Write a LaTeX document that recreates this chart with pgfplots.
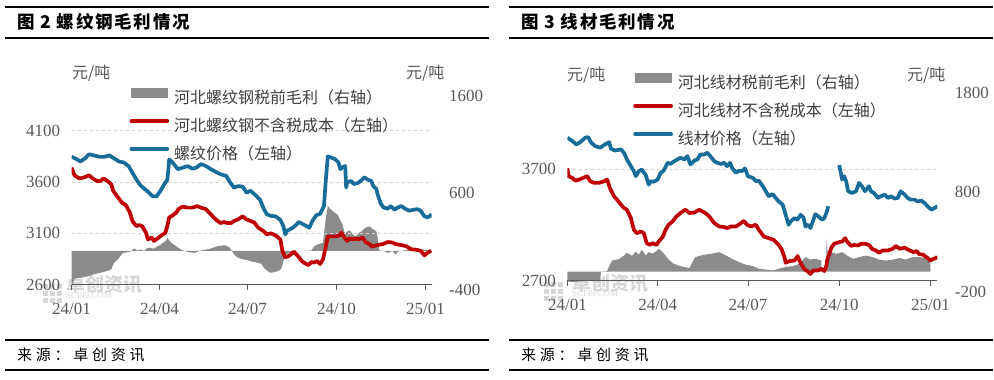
\documentclass[border=0pt]{standalone}
\usepackage{pgfplots}
\pgfplotsset{compat=1.18}
\usepackage{fontspec}
\setmainfont{Liberation Serif}
\newfontfamily\cjk{Noto Sans CJK SC}
\definecolor{costred}{RGB}{192,0,0}
\definecolor{priceblue}{RGB}{24,108,154}
\definecolor{profitgray}{RGB}{140,140,140}
\definecolor{tickgray}{RGB}{89,89,89}
\definecolor{txtgray}{RGB}{64,64,64}
\definecolor{wmgray}{RGB}{215,215,215}

\pgfplotsset{
  common/.style={scale only axis, xmin=0,
    /pgf/number format/assume math mode=true,
    /pgf/number format/1000 sep={},
    tick label style={font=\fontsize{17}{17}\selectfont, text=tickgray},
    major tick length=5pt, xtick align=outside},
  leftpanel/.style={at={(74,93)}, anchor=south west, width=360pt, height=194pt, xmax=372.3},
  rightpanel/.style={at={(572,89)}, anchor=south west, width=370pt, height=199pt, xmax=373},
  areaaxis/.style={axis x line=none, axis y line*=right,
    y axis line style={draw=none}, ytick style={draw=none},
    yticklabel style={anchor=west, xshift=14pt}},
  lineaxis/.style={axis x line*=bottom, axis y line*=left,
    y axis line style={draw=none}, ytick style={draw=none},
    x axis line style={draw=tickgray, line width=0.8pt},
    xtick style={draw=tickgray, line width=0.8pt},
    xtick={0,91,182,274,366}, xticklabels={24/01,24/04,24/07,24/10,25/01},
    xticklabel style={yshift=-10pt},
    yticklabel style={anchor=east, xshift=-8pt},
    ymajorgrids, grid style={dashed, draw=black!18, line width=0.8pt},
    legend style={draw=none, fill=none, inner sep=0pt, outer sep=0pt,
      font=\cjk\fontsize{16}{16}\selectfont, text=txtgray,
      nodes={inner sep=0pt, text height=14pt, text depth=2pt},
      row sep=12pt,
      /tikz/every odd column/.append style={column sep=5pt}},
    legend cell align=left},
  costline/.style={costred, line width=3.7pt, line join=round,
    legend image code/.code={\draw[costred, line width=3.7pt, line cap=round] (0pt,5pt) -- (36pt,5pt);}},
  priceline/.style={priceblue, line width=3.7pt, line join=round,
    legend image code/.code={\draw[priceblue, line width=3.7pt, line cap=round] (0pt,5pt) -- (36pt,5pt);}},
  profitlegend/.style={legend image code/.code={\fill[profitgray] (0pt,0.5pt) rectangle (36pt,9.5pt);}}
}

\begin{document}
\begin{tikzpicture}[x=1pt,y=1pt]
\fill[white] (0,0) rectangle (994,380);

% header / footer rules
\foreach \xa/\xb in {5/489, 509/993}{
  \draw[line width=1.5pt] (\xa,373) -- (\xb,373);
  \draw[line width=1.5pt] (\xa,342) -- (\xb,342);
  \draw[line width=1.5pt] (\xa,40) -- (\xb,40);
  \draw[line width=1.5pt] (\xa,10) -- (\xb,10);
}
\node[anchor=west, inner sep=0pt] at (17,358) {\cjk\bfseries\fontsize{17.5}{17.5}\selectfont\addfontfeature{LetterSpace=10}图 2 螺纹钢毛利情况};
\node[anchor=west, inner sep=0pt] at (521,358) {\cjk\bfseries\fontsize{17.5}{17.5}\selectfont\addfontfeature{LetterSpace=10}图 3 线材毛利情况};
\node[anchor=west, inner sep=0pt, text=black] at (17,25) {\cjk\fontsize{15}{15}\selectfont\addfontfeature{LetterSpace=25}来源：卓创资讯};
\node[anchor=west, inner sep=0pt, text=black] at (521,25) {\cjk\fontsize{15}{15}\selectfont\addfontfeature{LetterSpace=25}来源：卓创资讯};

% watermarks
\foreach \ox/\oy in {43/77, 544/79}{
  \foreach \i in {0,1,2}{\foreach \j in {0,1,2}{
    \fill[wmgray] (\ox+\i*7,\oy+\j*7) rectangle ++(5,5);}}
}
\node[anchor=west, inner sep=0pt, text=wmgray] at (66,96) {\cjk\bfseries\fontsize{19}{19}\selectfont 卓创资讯};
\node[anchor=west, inner sep=0pt, text=wmgray] at (66,84) {\fontsize{9}{9}\selectfont SCI99.COM};
\node[anchor=west, inner sep=0pt, text=wmgray] at (572,97) {\cjk\bfseries\fontsize{19}{19}\selectfont 卓创资讯};
\node[anchor=west, inner sep=0pt, text=wmgray] at (572,86) {\fontsize{9}{9}\selectfont SCI99.COM};

% unit labels
\node[anchor=west, inner sep=0pt, text=tickgray] at (72,307) {\cjk\fontsize{16}{16}\selectfont 元/吨};
\node[anchor=west, inner sep=0pt, text=tickgray] at (406,307) {\cjk\fontsize{16}{16}\selectfont 元/吨};
\node[anchor=west, inner sep=0pt, text=tickgray] at (567,305) {\cjk\fontsize{16}{16}\selectfont 元/吨};
\node[anchor=west, inner sep=0pt, text=tickgray] at (907,305) {\cjk\fontsize{16}{16}\selectfont 元/吨};

% ================= LEFT PANEL =================
\begin{axis}[common, leftpanel, areaaxis, ymin=-400, ymax=1600, ytick={-400,600,1600}]
\addplot[fill=profitgray, draw=none] coordinates {
(0,-380)(3,-285)(10,-275)(17,-260)(23,-240)(30,-225)(37,-205)(41,-190)(44,-120)(48,-85)(53,-20)(60,-10)(65,25)(68,5)(72,15)(75,0)(79,35)(85,25)(92,65)(98,110)(99,135)(103,85)(108,50)(113,15)(120,-10)(127,-20)(134,5)(144,25)(151,50)(158,60)(163,40)(168,-35)(172,-70)(177,-85)(182,-95)(187,-110)(192,-120)(196,-130)(199,-175)(203,-210)(206,-225)(211,-215)(215,-200)(217,-180)(219,-105)(222,-35)(227,-10)(232,0)(237,0)(242,0)(248,5)(251,50)(254,65)(260,85)(263,340)(265,465)(268,430)(272,395)(275,375)(278,315)(280,275)(283,170)(285,205)(288,210)(291,170)(294,150)(297,185)(301,210)(304,240)(308,255)(311,230)(315,205)(316,170)(318,15)(320,0)(323,0)(327,-20)(332,0)(335,-35)(339,5)(342,0)(347,15)(354,15)(361,15)(366,15)(370,5)(372,-20)
} \closedcycle;
\end{axis}

\begin{axis}[common, leftpanel, lineaxis, ymin=2600, ymax=4491, ytick={2600,3100,3600,4100},
  legend style={at={(rel axis cs:0.161,1.012)}, anchor=north west}]
\addlegendimage{profitlegend}
\addlegendentry{河北螺纹钢税前毛利（右轴）}
\addplot[costline] coordinates {
(0,3740)(3,3665)(8,3635)(13,3645)(18,3665)(22,3635)(26,3610)(30,3610)(33,3635)(37,3610)(41,3580)(43,3515)(48,3450)(52,3400)(56,3375)(60,3310)(63,3220)(67,3170)(70,3180)(73,3170)(77,3105)(79,3040)(83,3060)(85,3025)(89,3050)(93,3080)(97,3105)(99,3170)(101,3255)(104,3270)(108,3300)(111,3340)(115,3360)(120,3350)(125,3350)(130,3365)(134,3350)(139,3335)(144,3285)(148,3245)(151,3220)(154,3200)(158,3210)(161,3200)(165,3200)(168,3220)(172,3235)(177,3265)(181,3235)(185,3220)(189,3205)(193,3155)(198,3125)(202,3090)(206,3100)(211,3080)(216,3040)(218,2930)(221,2865)(225,2880)(230,2920)(234,2880)(238,2830)(241,2810)(245,2790)(248,2820)(251,2815)(254,2830)(257,2800)(260,2845)(263,2975)(265,3070)(268,3070)(273,3070)(277,3080)(279,3105)(282,3060)(285,3025)(287,3050)(291,3040)(294,3050)(297,3040)(301,3060)(304,3015)(308,2995)(311,2970)(316,2985)(322,2995)(327,3015)(332,3010)(335,2995)(341,2985)(346,2975)(351,2945)(356,2940)(361,2930)(365,2885)(368,2910)(372,2930)
};
\addlegendentry{河北螺纹钢不含税成本（左轴）}
\addplot[priceline] coordinates {
(0,3845)(4,3830)(9,3800)(14,3830)(18,3870)(23,3860)(29,3845)(34,3845)(39,3860)(44,3830)(49,3800)(54,3790)(59,3755)(63,3690)(67,3625)(71,3570)(74,3545)(79,3505)(84,3460)(88,3460)(92,3515)(96,3580)(99,3620)(100,3710)(101,3820)(104,3795)(110,3725)(115,3740)(120,3755)(125,3730)(129,3740)(134,3775)(139,3755)(144,3725)(149,3700)(154,3675)(160,3660)(163,3610)(168,3545)(172,3560)(177,3555)(181,3495)(185,3515)(191,3465)(195,3425)(199,3335)(202,3285)(206,3270)(211,3265)(216,3230)(219,3170)(221,3090)(223,3125)(229,3155)(232,3180)(235,3210)(241,3180)(246,3155)(249,3220)(253,3275)(257,3290)(261,3365)(263,3625)(265,3850)(268,3840)(273,3820)(276,3790)(278,3725)(280,3745)(283,3755)(284,3545)(285,3595)(289,3610)(292,3580)(296,3590)(299,3610)(303,3645)(306,3625)(310,3610)(312,3560)(315,3535)(317,3465)(320,3385)(323,3350)(327,3340)(330,3365)(334,3330)(337,3350)(341,3365)(345,3340)(349,3320)(354,3330)(358,3335)(361,3320)(365,3265)(368,3255)(371,3270)(372,3290)
};
\addlegendentry{螺纹价格（左轴）}
\end{axis}

% ================= RIGHT PANEL =================
\begin{axis}[common, rightpanel, areaaxis, ymin=-200, ymax=1800, ytick={-200,800,1800}]
\addplot[fill=profitgray, draw=none] coordinates {
(0,-100)(5,-105)(11,-100)(18,-95)(25,-95)(28,-90)(31,-85)(33,-80)(34,0)(40,5)(43,70)(45,110)(52,125)(57,160)(60,188)(65,160)(69,200)(72,168)(75,220)(79,160)(82,195)(86,180)(89,200)(92,230)(96,195)(99,160)(102,120)(107,80)(112,60)(118,45)(123,35)(126,95)(129,145)(134,160)(139,170)(146,180)(153,195)(160,160)(166,128)(173,95)(180,68)(187,55)(193,28)(200,20)(207,10)(213,28)(220,45)(227,55)(234,78)(240,145)(245,120)(250,128)(256,110)
} \closedcycle;
\addplot[fill=profitgray, draw=none] coordinates {
(261,330)(262,211)(266,195)(271,178)(277,195)(282,160)(288,128)(294,145)(301,160)(308,145)(314,120)(321,110)(328,120)(335,135)(341,120)(348,145)(355,145)(362,135)(366,110)
} \closedcycle;
\end{axis}

\begin{axis}[common, rightpanel, lineaxis, ymin=2700, ymax=4482, ytick={2700,3700},
  unbounded coords=jump,
  legend style={at={(rel axis cs:0.178,1.042)}, anchor=north west}]
\addlegendimage{profitlegend}
\addlegendentry{河北线材税前毛利（右轴）}
\addplot[costline] coordinates {
(0,3705)(1,3635)(5,3620)(8,3595)(12,3605)(16,3620)(20,3635)(23,3590)(27,3575)(32,3575)(37,3590)(40,3605)(43,3525)(47,3455)(50,3425)(54,3380)(57,3350)(60,3335)(64,3260)(67,3155)(70,3125)(74,3140)(77,3125)(80,3035)(83,3020)(86,3035)(90,3020)(92,3050)(96,3090)(99,3155)(102,3200)(106,3230)(110,3275)(114,3305)(119,3335)(123,3305)(128,3310)(133,3335)(136,3320)(139,3305)(143,3275)(148,3215)(153,3185)(158,3180)(161,3170)(165,3185)(170,3185)(175,3215)(178,3235)(181,3200)(185,3185)(190,3200)(193,3155)(198,3095)(203,3080)(208,3065)(213,3020)(216,2980)(219,2905)(220,2860)(224,2875)(229,2880)(232,2920)(235,2860)(239,2800)(242,2785)(245,2760)(248,2790)(252,2790)(256,2805)(259,2785)(261,2830)(262,2890)(264,2935)(266,2995)(269,3030)(274,3045)(277,3050)(280,3080)(282,3050)(286,3010)(289,3020)(293,3015)(296,3030)(300,3030)(304,3020)(307,2985)(311,2970)(314,2950)(318,2970)(323,2970)(328,2985)(331,3010)(335,2985)(340,2995)(345,2970)(349,2955)(352,2965)(355,2935)(358,2935)(362,2910)(366,2880)(368,2890)(372,2905)(373,2915)
};
\addlegendentry{河北线材不含税成本（左轴）}
\addplot[priceline] coordinates {
(0,3980)(5,3950)(9,3920)(13,3940)(18,3980)(21,3985)(24,3935)(28,3905)(33,3890)(38,3920)(42,3940)(44,3880)(48,3865)(54,3875)(57,3845)(60,3785)(64,3725)(67,3680)(69,3635)(72,3680)(75,3695)(79,3645)(82,3560)(84,3590)(87,3585)(91,3605)(94,3665)(97,3685)(101,3755)(104,3745)(107,3765)(111,3785)(114,3800)(118,3785)(121,3815)(124,3740)(128,3775)(131,3785)(134,3830)(138,3830)(141,3845)(144,3815)(148,3770)(151,3755)(155,3745)(158,3755)(161,3725)(164,3755)(166,3710)(170,3665)(173,3685)(176,3680)(179,3705)(182,3635)(187,3620)(190,3590)(193,3595)(197,3545)(200,3500)(203,3455)(207,3475)(210,3440)(213,3410)(217,3380)(220,3290)(223,3200)(225,3230)(229,3260)(232,3245)(235,3290)(238,3265)(240,3185)(243,3200)(245,3170)(248,3245)(250,3295)(253,3275)(257,3245)(259,3260)(261,3305)(263,3365)(268,nan)(274,3735)(277,3605)(279,3635)(281,3590)(283,3500)(287,3485)(291,3500)(294,3575)(297,3545)(300,3500)(304,3545)(306,3500)(309,3485)(313,3440)(316,3455)(320,3470)(323,3440)(326,3455)(330,3435)(333,3440)(336,3500)(340,3470)(343,3440)(346,3425)(350,3425)(353,3410)(357,3415)(360,3395)(363,3365)(367,3335)(370,3350)(373,3365)
};
\addlegendentry{线材价格（左轴）}
\end{axis}
\end{tikzpicture}
\end{document}
